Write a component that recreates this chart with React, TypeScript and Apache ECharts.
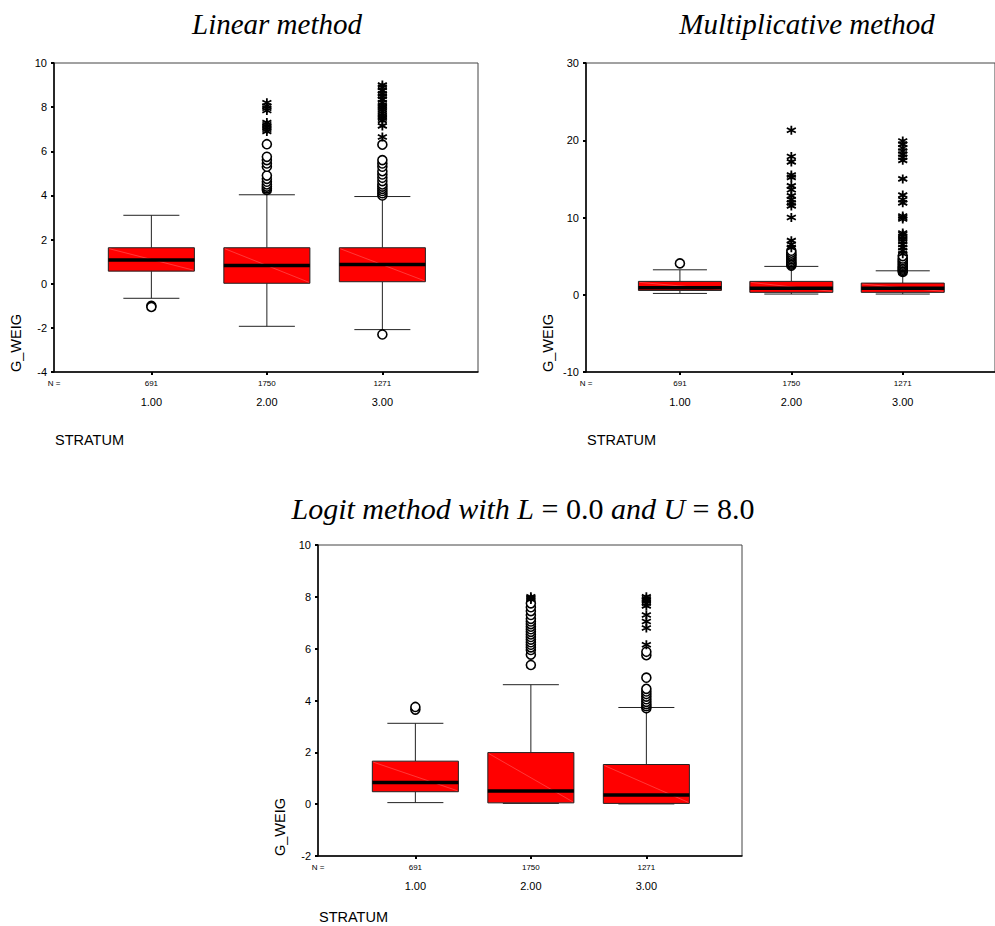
import React, { useEffect, useRef } from "react";
import * as echarts from "echarts";

// Stratum codes and group sizes shared by all three panels
const strata = ["1.00", "2.00", "3.00"];
const counts = [691, 1750, 1271];

// Box summaries per stratum: [lower whisker, Q1, median, Q3, upper whisker]
const linearBoxes = [
  [-0.66, 0.57, 1.07, 1.63, 3.1],
  [-1.93, 0.02, 0.83, 1.63, 4.03],
  [-2.08, 0.09, 0.87, 1.63, 3.95],
];
const linearCircles = [
  [-1.0, -1.05],
  [4.25, 4.32, 4.4, 4.5, 4.62, 4.75, 4.9, 5.3, 5.45, 5.6, 5.75, 6.32],
  [-2.3, 4.0, 4.1, 4.2, 4.3, 4.4, 4.5, 4.65, 4.8, 4.95, 5.1, 5.3, 5.45, 5.6, 6.3],
];
const linearStars = [
  [],
  [6.9, 7.0, 7.1, 7.2, 7.3, 7.85, 7.95, 8.05, 8.2],
  [6.65, 7.15, 7.4, 7.5, 7.6, 7.7, 7.8, 7.9, 8.0, 8.1, 8.2, 8.35, 8.5, 8.6, 8.75, 8.9, 9.0],
];

const multBoxes = [
  [0.17, 0.56, 0.9, 1.73, 3.23],
  [0.09, 0.31, 0.83, 1.73, 3.67],
  [0.09, 0.31, 0.83, 1.51, 3.1],
];
const multCircles = [
  [4.06],
  [3.75, 3.9, 4.05, 4.2, 4.4, 4.6, 4.8, 5.0, 5.2, 5.45, 5.7],
  [2.95, 3.1, 3.25, 3.4, 3.55, 3.7, 3.9, 4.1, 4.3, 4.5, 4.7, 5.0],
];
const multStars = [
  [],
  [6.1, 6.5, 7.0, 10.0, 11.5, 11.9, 12.3, 12.8, 13.6, 14.1, 15.2, 15.5, 17.2, 17.9, 21.3],
  [5.3, 5.7, 6.1, 6.5, 6.9, 7.2, 7.5, 7.8, 8.0, 9.8, 10.0, 10.2, 11.9, 12.3, 12.9, 15.0, 17.4, 17.8, 18.2, 18.6, 19.0, 19.5, 19.9],
];

const logitBoxes = [
  [0.06, 0.48, 0.84, 1.66, 3.12],
  [0.03, 0.05, 0.51, 1.99, 4.61],
  [0.01, 0.03, 0.35, 1.53, 3.73],
];
const logitCircles = [
  [3.65, 3.75],
  [5.37, 5.77, 5.95, 6.05, 6.15, 6.25, 6.35, 6.45, 6.55, 6.65, 6.75, 6.85, 6.95, 7.05, 7.15, 7.3, 7.45, 7.6, 7.75],
  [3.7, 3.78, 3.86, 3.95, 4.05, 4.15, 4.25, 4.35, 4.45, 4.88, 5.75, 5.88],
];
const logitStars = [
  [],
  [7.9, 7.95, 8.0],
  [6.15, 6.8, 7.05, 7.3, 7.65, 7.75, 7.85, 7.92, 8.0],
];

// Y scales per panel: [min, max, step]
const linearScale = [-4, 10, 2];
const multScale = [-10, 30, 10];
const logitScale = [-2, 10, 2];

const SANS = "'Liberation Sans', Arial, Helvetica, sans-serif";
const SERIF = "'Liberation Serif', 'Times New Roman', serif";

const X_MIN = 0.157;
const X_MAX = 3.828;
const BOX_W = 0.745;
const CAP_W = 0.485;

const STAR_PATH = "path://M5 0V10M0.67 2.5L9.33 7.5M0.67 7.5L9.33 2.5";

type Panel = {
  boxes: number[][];
  circles: number[][];
  stars: number[][];
  scale: number[];
};

const panels: Panel[] = [
  { boxes: linearBoxes, circles: linearCircles, stars: linearStars, scale: linearScale },
  { boxes: multBoxes, circles: multCircles, stars: multStars, scale: multScale },
  { boxes: logitBoxes, circles: logitCircles, stars: logitStars, scale: logitScale },
];

// Plot rectangles in pixels, plus the offset of the STRATUM caption below each
const layout = [
  { left: 54, top: 63, width: 424, height: 309 },
  { left: 586, top: 63, width: 424, height: 309 },
  { left: 318, top: 545, width: 424, height: 311 },
];
const captionOffsets = [68, 68, 61];

function renderBox(params: any, api: any) {
  const x = api.value(0);
  const lo = api.value(1);
  const q1 = api.value(2);
  const md = api.value(3);
  const q3 = api.value(4);
  const hi = api.value(5);
  const [cx, yLo] = api.coord([x, lo]);
  const yQ1 = api.coord([x, q1])[1];
  const yMd = api.coord([x, md])[1];
  const yQ3 = api.coord([x, q3])[1];
  const yHi = api.coord([x, hi])[1];
  const xL = api.coord([x - BOX_W / 2, md])[0];
  const xR = api.coord([x + BOX_W / 2, md])[0];
  const cL = api.coord([x - CAP_W / 2, md])[0];
  const cR = api.coord([x + CAP_W / 2, md])[0];
  const whisker = { stroke: "#222", lineWidth: 1 };
  return {
    type: "group",
    children: [
      { type: "line", shape: { x1: cx, y1: yHi, x2: cx, y2: yQ3 }, style: whisker },
      { type: "line", shape: { x1: cx, y1: yQ1, x2: cx, y2: yLo }, style: whisker },
      { type: "line", shape: { x1: cL, y1: yHi, x2: cR, y2: yHi }, style: whisker },
      { type: "line", shape: { x1: cL, y1: yLo, x2: cR, y2: yLo }, style: whisker },
      {
        type: "rect",
        shape: { x: xL, y: yQ3, width: xR - xL, height: yQ1 - yQ3 },
        style: { fill: "#ff0000", stroke: "#222", lineWidth: 1 },
      },
      {
        type: "line",
        shape: { x1: xL + 1, y1: yQ3 + 1, x2: xR - 1, y2: yQ1 - 1 },
        style: { stroke: "rgba(255,150,150,0.75)", lineWidth: 0.5 },
      },
      {
        type: "line",
        shape: { x1: xL, y1: yMd, x2: xR, y2: yMd },
        style: { stroke: "#000", lineWidth: 3.5 },
      },
    ],
  };
}

function buildOption() {
  const grid = layout.map((g) => ({
    ...g,
    show: true,
    borderColor: "#444",
    borderWidth: 1,
    backgroundColor: "transparent",
  }));

  const xAxis = panels.map((_, i) => ({
    type: "value",
    gridIndex: i,
    min: X_MIN,
    max: X_MAX,
    axisLine: { show: true, onZero: false, lineStyle: { color: "#000", width: 1.5 } },
    axisTick: {
      show: true,
      customValues: [1, 2, 3],
      length: 3,
      lineStyle: { color: "#000", width: 2 },
    },
    splitLine: { show: false },
    axisLabel: {
      customValues: [1, 2, 3],
      margin: 6,
      formatter: (v: number) => {
        const k = Math.round(v) - 1;
        return `{n|${counts[k]}}\n{c|${strata[k]}}`;
      },
      rich: {
        n: { fontFamily: SANS, fontSize: 8, lineHeight: 10, color: "#000" },
        c: { fontFamily: SANS, fontSize: 11, lineHeight: 28, color: "#000" },
      },
    },
  }));

  const yAxis = panels.map((p, i) => ({
    type: "value",
    gridIndex: i,
    min: p.scale[0],
    max: p.scale[1],
    interval: p.scale[2],
    axisLine: { show: true, onZero: false, lineStyle: { color: "#000", width: 1.5 } },
    axisTick: { show: true, length: 3, lineStyle: { color: "#000", width: 2 } },
    splitLine: { show: false },
    axisLabel: { fontFamily: SANS, fontSize: 11, color: "#000", margin: 7 },
  }));

  const series: any[] = [];
  panels.forEach((p, i) => {
    series.push({
      type: "custom",
      xAxisIndex: i,
      yAxisIndex: i,
      silent: true,
      encode: { x: 0, y: [1, 2, 3, 4, 5] },
      data: p.boxes.map((b, k) => [k + 1, ...b]),
      renderItem: renderBox,
      z: 2,
    });
    series.push({
      type: "scatter",
      xAxisIndex: i,
      yAxisIndex: i,
      silent: true,
      symbol: "circle",
      symbolSize: 9,
      itemStyle: { color: "#fff", borderColor: "#000", borderWidth: 1.6, opacity: 1 },
      data: p.circles.flatMap((vals, k) => vals.map((v) => [k + 1, v])),
      z: 3,
    });
    series.push({
      type: "scatter",
      xAxisIndex: i,
      yAxisIndex: i,
      silent: true,
      symbol: STAR_PATH,
      symbolSize: 9,
      itemStyle: { color: "#000", borderColor: "#000", borderWidth: 1.8, opacity: 1 },
      data: p.stars.flatMap((vals, k) => vals.map((v) => [k + 1, v])),
      z: 4,
    });
  });

  const axisTitle = { fontFamily: SANS, fontSize: 14.5, fill: "#000" };
  const graphic: any[] = [
    {
      type: "text",
      x: 277,
      y: 24,
      style: {
        text: "Linear method",
        fontFamily: SERIF,
        fontStyle: "italic",
        fontSize: 29,
        fill: "#000",
        align: "center",
        verticalAlign: "middle",
      },
    },
    {
      type: "text",
      x: 807,
      y: 24,
      style: {
        text: "Multiplicative method",
        fontFamily: SERIF,
        fontStyle: "italic",
        fontSize: 29,
        fill: "#000",
        align: "center",
        verticalAlign: "middle",
      },
    },
    {
      type: "text",
      x: 523,
      y: 508,
      style: {
        text: "{i|Logit method with L}{r| = 0.0 }{i|and U}{r| = 8.0}",
        align: "center",
        verticalAlign: "middle",
        rich: {
          i: { fontFamily: SERIF, fontStyle: "italic", fontSize: 30, fill: "#000" },
          r: { fontFamily: SERIF, fontSize: 30, fill: "#000" },
        },
      },
    },
  ];

  layout.forEach((g, i) => {
    const bottom = g.top + g.height;
    graphic.push({
      type: "text",
      x: g.left,
      y: bottom + 11,
      style: { text: "N =", fontFamily: SANS, fontSize: 8, fill: "#000", align: "center", verticalAlign: "middle" },
    });
    graphic.push({
      type: "text",
      x: g.left + 1,
      y: bottom + captionOffsets[i],
      style: { ...axisTitle, text: "STRATUM", align: "left", verticalAlign: "middle" },
    });
    graphic.push({
      type: "text",
      x: g.left - 38,
      y: bottom - 29,
      rotation: Math.PI / 2,
      style: { ...axisTitle, text: "G_WEIG", align: "center", verticalAlign: "middle" },
    });
  });

  return {
    animation: false,
    backgroundColor: "#fff",
    grid,
    xAxis,
    yAxis,
    series,
    graphic,
  };
}

export default function App() {
  const ref = useRef<HTMLDivElement>(null);

  useEffect(() => {
    if (!ref.current) return;
    const chart = echarts.init(ref.current, undefined, { renderer: "svg" });
    chart.setOption(buildOption() as any);
    return () => chart.dispose();
  }, []);

  return (
    <div
      ref={ref}
      style={{ position: "absolute", left: 0, top: 0, width: 995, height: 926, background: "#fff" }}
    />
  );
}
